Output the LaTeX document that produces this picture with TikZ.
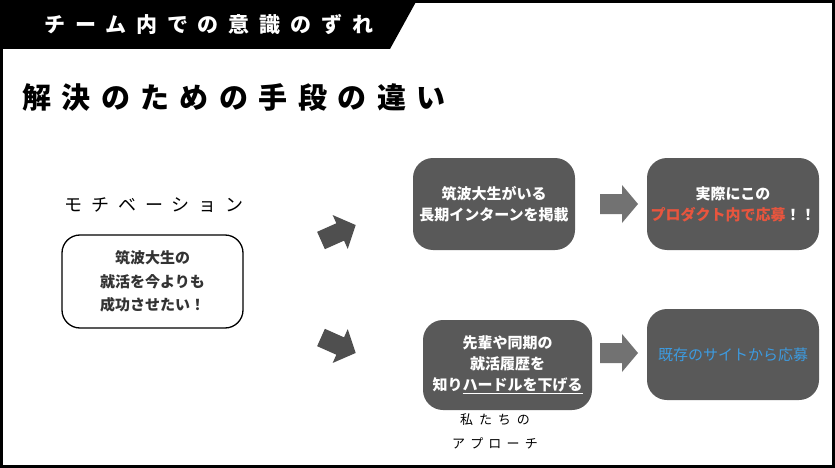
\documentclass[tikz,border=0pt]{standalone}
\usepackage{fontspec}
\setmainfont{Noto Sans CJK JP}
\newfontfamily\jp{Noto Sans CJK JP}
\definecolor{boxgray}{HTML}{595959}
\definecolor{arrowlight}{HTML}{727272}
\definecolor{arrowdark}{HTML}{4F4F4F}
\definecolor{redtx}{HTML}{E8553E}
\definecolor{bluetx}{HTML}{3D9BE0}
\definecolor{darktx}{HTML}{333333}
\newsavebox\myulbox
\newcommand\myul[1]{\sbox\myulbox{#1}\rlap{\color{white}\rule[-3.5pt]{\wd\myulbox}{1.3pt}}\usebox\myulbox}
\begin{document}
\begin{tikzpicture}[x=1pt,y=-1pt,
  darkbox/.style={fill=boxgray, rounded corners=20pt, text=white, align=center, inner sep=0pt,
    font=\jp\bfseries\fontsize{15pt}{21pt}\selectfont},
  whitebox/.style={draw=black, line width=1.3pt, fill=white, rounded corners=18pt, text=darktx, align=center, inner sep=0pt,
    font=\jp\bfseries\fontsize{15pt}{23.5pt}\selectfont},
  label/.style={inner sep=0pt, text=black}
]
\useasboundingbox (0,0) rectangle (835,468);
\fill[white] (0,0) rectangle (835,468);
% banner
\fill[black] (0,0) -- (417,0) -- (390,49) -- (0,49) -- cycle;
\draw[black, line width=3pt] (1.5,1.5) rectangle (833.5,466.5);
\node[label, anchor=west, text=white, font=\jp\bfseries\fontsize{21pt}{25pt}\selectfont\addfontfeature{LetterSpace=47}] (title) at (44,25) {チーム内での意識のずれ};
\node[label, anchor=west, font=\jp\bfseries\fontsize{29pt}{33pt}\selectfont\addfontfeature{LetterSpace=36}] (subtitle) at (22,97) {解決のための手段の違い};
% motivation
\node[label, font=\jp\fontsize{18pt}{22pt}\selectfont\addfontfeature{LetterSpace=50}] (motlabel) at (154,205) {モチベーション};
\node[whitebox, minimum width=181pt, minimum height=93pt] (mot) at (152.5,281.5) {筑波大生の\\就活を今よりも\\成功させたい！};
% boxes
\node[darkbox, minimum width=162pt, minimum height=92pt] (a) at (494,204) {筑波大生がいる\\長期インターンを掲載};
\node[darkbox, minimum width=172pt, minimum height=92pt] (b) at (733,204) {実際にこの\\\textcolor{redtx}{プロダクト内で応募}！！};
\node[darkbox, minimum width=169pt, minimum height=90pt] (c) at (507.5,365) {先輩や同期の\\就活履歴を\\知り\myul{ハードルを下げる}};
\node[darkbox, minimum width=172pt, minimum height=91pt, text=bluetx, font=\jp\fontsize{15pt}{21pt}\selectfont] (d) at (733,354.5) {既存のサイトから応募};
% labels
\node[label, font=\jp\fontsize{13pt}{16pt}\selectfont\addfontfeature{LetterSpace=45}] (we) at (495,420) {私たちの};
\node[label, font=\jp\fontsize{13pt}{16pt}\selectfont\addfontfeature{LetterSpace=40}] (appr) at (495,443) {アプローチ};
% arrows
\fill[arrowdark, shift={(321,240.5)}, rotate=24] (0,-9.5) -- (21,-9.5) -- (21,-18.5) -- (38,0) -- (21,18.5) -- (21,9.5) -- (0,9.5) -- cycle;
\fill[arrowdark, shift={(321,337.5)}, rotate=-24] (0,-9.5) -- (21,-9.5) -- (21,-18.5) -- (38,0) -- (21,18.5) -- (21,9.5) -- (0,9.5) -- cycle;
\fill[arrowlight, shift={(600,204)}] (0,-10) -- (22,-10) -- (22,-19) -- (38,0) -- (22,19) -- (22,10) -- (0,10) -- cycle;
\fill[arrowlight, shift={(600,353)}] (0,-10) -- (22,-10) -- (22,-19) -- (38,0) -- (22,19) -- (22,10) -- (0,10) -- cycle;
\end{tikzpicture}
\end{document}
